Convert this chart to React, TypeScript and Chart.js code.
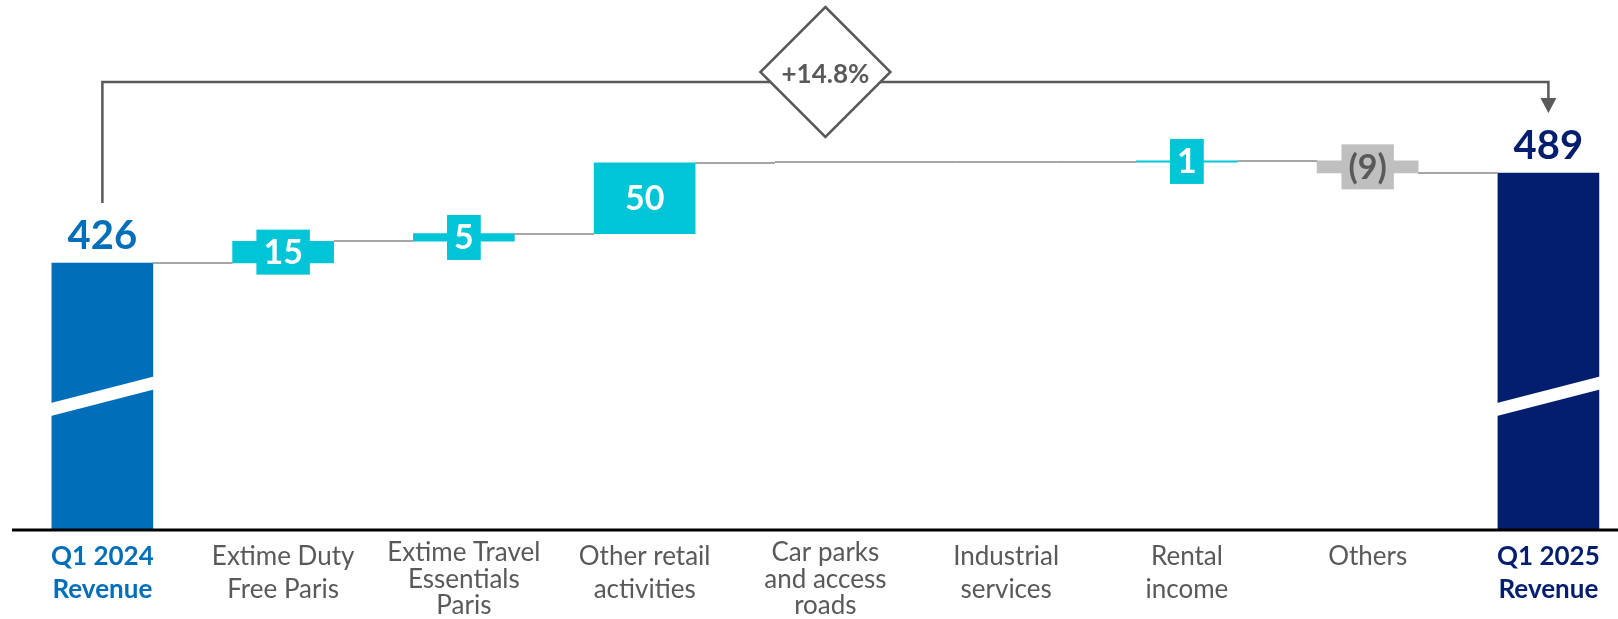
import React, { useEffect, useRef } from "react";
import { Chart, registerables } from "chart.js";

Chart.register(...registerables);

// ---- data ----
const categories: string[][] = [
  ["Q1 2024", "Revenue"],
  ["Extime Duty", "Free Paris"],
  ["Extime Travel", "Essentials", "Paris"],
  ["Other retail", "activities"],
  ["Car parks", "and access", "roads"],
  ["Industrial", "services"],
  ["Rental", "income"],
  ["Others"],
  ["Q1 2025", "Revenue"],
];
const startTotal = 426;
const endTotal = 489;
const deltas = [15.2, 5.4, 49.6, 0.2, 0.2, 1.0, -8.6];
const growthLabel = "+14.8%";
const yMin = 239.1;
const yMax = 610.1;
const breakValue = 332.7;

const BLUE = "#006EB9";
const NAVY = "#041E6F";
const CYAN = "#00C5D6";
const GREY_BAR = "#BFBFBF";
const TEXT_GREY = "#595959";
const CONNECTOR = "#A6A6A6";

function buildBars() {
  const ranges: [number, number][] = [];
  const colors: string[] = [];
  ranges.push([0, startTotal]);
  colors.push(BLUE);
  let level = startTotal;
  for (const d of deltas) {
    const next = level + d;
    ranges.push([Math.min(level, next), Math.max(level, next)]);
    colors.push(Math.round(d) === 0 ? CONNECTOR : d < 0 ? GREY_BAR : CYAN);
    level = next;
  }
  ranges.push([0, endTotal]);
  colors.push(NAVY);
  return { ranges, colors };
}

function fmtDelta(d: number): string {
  const r = Math.round(d);
  if (r === 0) return "";
  return r < 0 ? `(${Math.abs(r)})` : `${r}`;
}

const FONT = "Lato, 'Noto Sans', sans-serif";

const waterfallPlugin = {
  id: "waterfallDecor",
  afterDatasetsDraw(chart: any) {
    const ctx: CanvasRenderingContext2D = chart.ctx;
    const meta = chart.getDatasetMeta(0);
    const els = meta.data;
    const yScale = chart.scales.y;
    const xScale = chart.scales.x;
    const { ranges } = buildBars();

    // connectors
    ctx.save();
    ctx.strokeStyle = CONNECTOR;
    ctx.lineWidth = 2;
    let level = startTotal;
    const levels: number[] = [startTotal];
    for (const d of deltas) {
      level += d;
      levels.push(level);
    }
    for (let i = 0; i < els.length - 1; i++) {
      const a = els[i];
      const b = els[i + 1];
      const y = Math.round(yScale.getPixelForValue(levels[i]));
      ctx.beginPath();
      ctx.moveTo(a.x + a.width / 2, y);
      ctx.lineTo(b.x - b.width / 2, y);
      ctx.stroke();
    }
    // near-zero changes drawn as a flat line across the bar
    for (let i = 0; i < deltas.length; i++) {
      if (Math.round(deltas[i]) !== 0) continue;
      const e = els[i + 1];
      const y = Math.round(yScale.getPixelForValue(levels[i + 1]));
      ctx.beginPath();
      ctx.moveTo(e.x - e.width / 2, y);
      ctx.lineTo(e.x + e.width / 2, y);
      ctx.stroke();
    }
    ctx.restore();

    // break bands on total bars
    const cy = yScale.getPixelForValue(breakValue);
    [0, els.length - 1].forEach((i) => {
      const e = els[i];
      const l = e.x - e.width / 2 - 1;
      const r = e.x + e.width / 2 + 1;
      const half = 6.5;
      const slope = -26 / e.width;
      const cL = cy + (l - e.x) * slope;
      const cR = cy + (r - e.x) * slope;
      ctx.save();
      ctx.fillStyle = "#FFFFFF";
      ctx.beginPath();
      ctx.moveTo(l, cL - half);
      ctx.lineTo(r, cR - half);
      ctx.lineTo(r, cR + half);
      ctx.lineTo(l, cL + half);
      ctx.closePath();
      ctx.fill();
      ctx.restore();
    });

    // delta labels with boxes
    for (let i = 0; i < deltas.length; i++) {
      const txt = fmtDelta(deltas[i]);
      if (!txt) continue;
      const e = els[i + 1];
      const [lo, hi] = ranges[i + 1];
      const midY = (yScale.getPixelForValue(lo) + yScale.getPixelForValue(hi)) / 2;
      ctx.save();
      ctx.font = `bold 34px ${FONT}`;
      const w = ctx.measureText(txt).width;
      const bw = w + 14;
      const bh = 45;
      ctx.fillStyle = deltas[i] < 0 ? GREY_BAR : CYAN;
      ctx.fillRect(e.x - bw / 2, midY - bh / 2, bw, bh);
      ctx.fillStyle = deltas[i] < 0 ? TEXT_GREY : "#FFFFFF";
      ctx.textAlign = "center";
      ctx.textBaseline = "middle";
      ctx.fillText(txt, e.x, midY + 1);
      ctx.restore();
    }

    // total labels
    const first = els[0];
    const last = els[els.length - 1];
    ctx.save();
    ctx.font = `bold 40px ${FONT}`;
    ctx.textAlign = "center";
    ctx.textBaseline = "alphabetic";
    ctx.fillStyle = BLUE;
    ctx.fillText(String(startTotal), first.x, first.y - 14);
    ctx.fillStyle = NAVY;
    ctx.fillText(String(endTotal), last.x, last.y - 14);
    ctx.restore();

    // bracket with growth diamond
    const x1 = first.x;
    const x2 = last.x;
    const topY = 82;
    const startY = first.y - 60;
    const tipY = last.y - 60;
    ctx.save();
    ctx.strokeStyle = TEXT_GREY;
    ctx.fillStyle = TEXT_GREY;
    ctx.lineWidth = 2.5;
    ctx.beginPath();
    ctx.moveTo(x1, startY);
    ctx.lineTo(x1, topY);
    ctx.lineTo(x2, topY);
    ctx.lineTo(x2, tipY - 14);
    ctx.stroke();
    ctx.beginPath();
    ctx.moveTo(x2 - 8, tipY - 15);
    ctx.lineTo(x2 + 8, tipY - 15);
    ctx.lineTo(x2, tipY);
    ctx.closePath();
    ctx.fill();
    const dx = (x1 + x2) / 2;
    const dy = topY - 10;
    const h = 65;
    ctx.beginPath();
    ctx.moveTo(dx, dy - h);
    ctx.lineTo(dx + h, dy);
    ctx.lineTo(dx, dy + h);
    ctx.lineTo(dx - h, dy);
    ctx.closePath();
    ctx.fillStyle = "#FFFFFF";
    ctx.fill();
    ctx.stroke();
    ctx.fillStyle = TEXT_GREY;
    ctx.font = `bold 26px ${FONT}`;
    ctx.textAlign = "center";
    ctx.textBaseline = "middle";
    ctx.fillText(growthLabel, dx, dy + 3);
    ctx.restore();

    // axis line
    const axisY = chart.chartArea.bottom;
    ctx.save();
    ctx.strokeStyle = "#000000";
    ctx.lineWidth = 3;
    ctx.beginPath();
    ctx.moveTo(chart.chartArea.left, axisY);
    ctx.lineTo(chart.width, axisY);
    ctx.stroke();
    ctx.restore();

    // category labels
    ctx.save();
    ctx.textAlign = "center";
    ctx.textBaseline = "alphabetic";
    categories.forEach((lines, i) => {
      const x = xScale.getPixelForValue(i);
      const isTotal = i === 0 || i === categories.length - 1;
      ctx.font = isTotal ? `bold 26px ${FONT}` : `26px ${FONT}`;
      ctx.fillStyle = i === 0 ? BLUE : i === categories.length - 1 ? NAVY : TEXT_GREY;
      const three = lines.length >= 3;
      const firstBase = three ? axisY + 31 : axisY + 35;
      const step = three ? 26.5 : 32.5;
      lines.forEach((ln, k) => {
        ctx.fillText(ln, x, firstBase + k * step);
      });
    });
    ctx.restore();
  },
};

export default function App() {
  const ref = useRef<HTMLCanvasElement | null>(null);

  useEffect(() => {
    if (!ref.current) return;
    const { ranges, colors } = buildBars();
    const chart = new Chart(ref.current, {
      type: "bar",
      data: {
        datasets: [
          {
            data: ranges.map((r, i) => ({ x: i, y: r })) as any,
            backgroundColor: colors,
            borderWidth: 0,
            barThickness: 101,
          },
        ],
      },
      options: {
        animation: false,
        responsive: false,
        devicePixelRatio: 1,
        layout: { padding: { left: 12, right: 0, top: 0, bottom: 89 } },
        plugins: { legend: { display: false }, tooltip: { enabled: false } },
        scales: {
          x: { type: "linear", display: false, offset: false, min: -0.5, max: 8.385 },
          y: { display: false, min: yMin, max: yMax },
        },
      },
      plugins: [waterfallPlugin],
    });
    return () => chart.destroy();
  }, []);

  return (
    <div style={{ position: "fixed", left: 0, top: 0, width: 1618, height: 619, background: "#fff" }}>
      <canvas ref={ref} width={1618} height={619} style={{ display: "block" }} />
    </div>
  );
}
